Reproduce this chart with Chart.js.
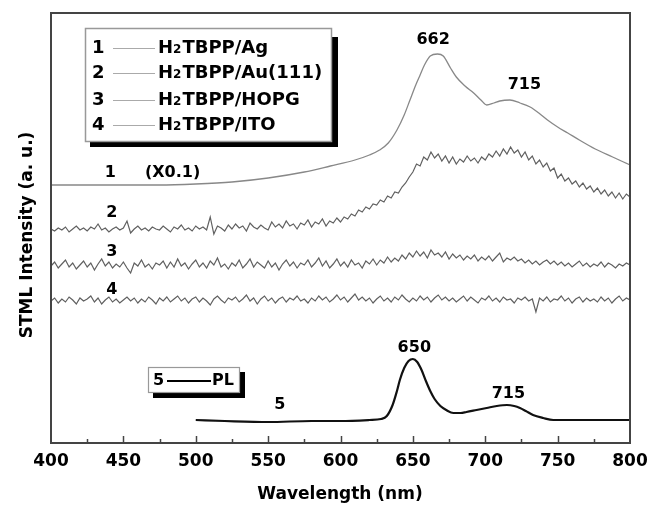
<!DOCTYPE html>
<html>
<head>
<meta charset="utf-8">
<script src="https://cdn.jsdelivr.net/npm/chart.js@4.4.1/dist/chart.umd.min.js"></script>
<style>
  html, body { margin: 0; padding: 0; background: #fff; }
  #wrap { width: 650px; height: 508px; }
</style>
</head>
<body>
<div id="wrap"><canvas id="myChart" width="650" height="508"></canvas></div>
<script>
// wavelength grid (nm) for the noisy STML spectra, 2.5 nm steps
const wlNoisy = [
  400, 402.5, 405, 407.5, 410, 412.5, 415, 417.5, 420, 422.5,
  425, 427.5, 430, 432.5, 435, 437.5, 440, 442.5, 445, 447.5,
  450, 452.5, 455, 457.5, 460, 462.5, 465, 467.5, 470, 472.5,
  475, 477.5, 480, 482.5, 485, 487.5, 490, 492.5, 495, 497.5,
  500, 502.5, 505, 507.5, 510, 512.5, 515, 517.5, 520, 522.5,
  525, 527.5, 530, 532.5, 535, 537.5, 540, 542.5, 545, 547.5,
  550, 552.5, 555, 557.5, 560, 562.5, 565, 567.5, 570, 572.5,
  575, 577.5, 580, 582.5, 585, 587.5, 590, 592.5, 595, 597.5,
  600, 602.5, 605, 607.5, 610, 612.5, 615, 617.5, 620, 622.5,
  625, 627.5, 630, 632.5, 635, 637.5, 640, 642.5, 645, 647.5,
  650, 652.5, 655, 657.5, 660, 662.5, 665, 667.5, 670, 672.5,
  675, 677.5, 680, 682.5, 685, 687.5, 690, 692.5, 695, 697.5,
  700, 702.5, 705, 707.5, 710, 712.5, 715, 717.5, 720, 722.5,
  725, 727.5, 730, 732.5, 735, 737.5, 740, 742.5, 745, 747.5,
  750, 752.5, 755, 757.5, 760, 762.5, 765, 767.5, 770, 772.5,
  775, 777.5, 780, 782.5, 785, 787.5, 790, 792.5, 795, 797.5,
  800
];

// 1: H2TBPP/Ag (x0.1), smooth
const wlAg  = [400, 425, 450, 475, 500, 525, 550, 575, 593, 610, 620, 627, 633, 639, 644, 648, 652, 655, 658, 662, 667, 671, 676, 680, 686, 692, 697, 701, 706, 710, 717, 724, 731, 737, 743, 750, 757, 765, 776, 788, 800];
const valAg = [258, 258, 258, 258, 259, 261, 265, 271, 277, 283, 288, 293, 300, 313, 328, 343, 358, 368, 378, 387, 389, 387, 375, 366, 357, 350, 343, 338, 340, 342, 343, 340, 336, 330, 323, 316, 310, 303, 294, 286, 278];

// 2: H2TBPP/Au(111)
const valAu = [
  214, 212, 215, 213, 216, 211, 214, 217, 213, 215,
  212, 216, 214, 219, 213, 215, 211, 214, 216, 213,
  215, 222, 210, 214, 217, 213, 215, 212, 216, 214,
  213, 217, 214, 211, 216, 214, 218, 213, 215, 212,
  217, 214, 216, 213, 226, 209, 217, 215, 212, 218,
  214, 219, 215, 217, 212, 220, 216, 214, 218, 215,
  213, 221, 216, 219, 215, 222, 217, 219, 214, 220,
  218, 223, 216, 221, 219, 224, 217, 222, 220, 225,
  221, 226, 224, 229, 227, 233, 231, 236, 234, 239,
  238, 243, 241, 247, 245, 251, 250, 256, 260, 266,
  271, 279, 277, 286, 283, 291, 285, 289, 282, 287,
  280, 286, 279, 284, 281, 287, 282, 285, 280, 286,
  283, 289, 286, 292, 287, 294, 289, 296, 290, 293,
  286, 291, 283, 287, 279, 283, 276, 280, 272, 275,
  265, 269, 262, 265, 259, 262, 256, 260, 254, 257,
  251, 255, 249, 253, 247, 251, 245, 250, 244, 249,
  246
];

// 3: H2TBPP/HOPG
const valHopg = [
  177, 181, 175, 179, 183, 176, 180, 174, 178, 182,
  176, 180, 173, 179, 184, 177, 181, 175, 179, 176,
  181, 175, 170, 180, 177, 183, 176, 179, 174, 180,
  178, 182, 175, 181, 176, 184, 177, 180, 174, 179,
  183, 176, 180, 175, 182, 178, 185, 176, 179, 174,
  180, 177, 183, 175, 179, 184, 176, 181, 178, 175,
  182, 176, 180, 173, 179, 183, 177, 181, 175, 180,
  178, 183, 176, 180, 185, 177, 182, 175, 179, 184,
  177, 181, 176, 183, 178, 180, 175, 182, 179, 184,
  178, 183, 180, 186, 181, 185, 182, 188, 184, 190,
  186, 192, 187, 191, 185, 193, 188, 190, 186, 191,
  184, 189, 185, 188, 183, 187, 184, 188, 182, 186,
  183, 187, 182, 186, 190, 181, 185, 183, 186, 182,
  184, 180, 183, 179, 182, 178, 181, 183, 179, 182,
  178, 181, 177, 180, 176, 179, 182, 177, 180, 176,
  179, 177, 181, 176, 180, 178, 175, 179, 177, 180,
  178
];

// 4: H2TBPP/ITO
const valIto = [
  142, 145, 140, 144, 141, 146, 143, 139, 145, 142,
  144, 147, 141, 145, 139, 143, 146, 141, 144, 140,
  143, 146, 142, 145, 140, 144, 141, 146, 143, 139,
  145, 142, 146, 141, 144, 147, 142, 145, 140, 144,
  146, 141, 145, 142, 138, 144, 147, 143, 140, 145,
  143, 146, 141, 144, 148, 142, 145, 139, 144, 147,
  142, 145, 140, 144, 146, 141, 145, 143, 147, 142,
  144, 140, 145, 142, 147, 143, 146, 141, 144, 148,
  143, 146, 141, 145, 149, 143, 146, 142, 145, 140,
  144, 147, 142, 145, 141, 146, 143, 148, 144, 141,
  145, 142, 147, 143, 146, 141, 145, 148, 143, 146,
  142, 145, 141, 144, 147, 142, 146, 143, 140, 145,
  143, 147, 142, 145, 141, 146, 143, 144, 140, 145,
  143, 146, 142, 144, 131, 145, 142, 146, 141, 144,
  143, 147, 142, 145, 140, 144, 146, 141, 145, 142,
  144, 141, 146, 142, 145, 140, 144, 147, 142, 145,
  143
];

// 5: PL
const wlPl  = [500, 520, 550, 580, 600, 620, 628, 632, 636, 639, 641, 644, 647, 650, 653, 656, 659, 662, 665, 669, 673, 678, 683, 687, 694, 701, 708, 715, 720, 724, 728, 733, 740, 747, 770, 800];
const valPl = [23, 22, 21, 22, 22, 23, 24, 27, 38, 52, 63, 75, 82, 84, 81, 73, 62, 52, 44, 37, 33, 30, 30, 31, 33, 35, 37, 38, 37, 35, 32, 28, 25, 23, 23, 23];

const xTicks = [400, 450, 500, 550, 600, 650, 700, 750, 800];
const legendNames = ['H2TBPP/Ag', 'H2TBPP/Au(111)', 'H2TBPP/HOPG', 'H2TBPP/ITO'];

// text written inside the plot, placed in data units
const notes = [
  { t: '662', x: 664, y: 403 },
  { t: '715', x: 727, y: 358 },
  { t: '1', x: 441, y: 270 },
  { t: '(X0.1)', x: 484, y: 270 },
  { t: '2', x: 442, y: 230 },
  { t: '3', x: 442, y: 191 },
  { t: '4', x: 442, y: 153 },
  { t: '650', x: 651, y: 95 },
  { t: '715', x: 716, y: 49 },
  { t: '5', x: 558, y: 38 }
];

const pts = (xs, ys) => xs.map((x, i) => ({ x: x, y: ys[i] }));
const FONT = '"DejaVu Sans", Verdana, sans-serif';

const drawSub = (ctx, s, x, y, size) => {
  // draw "H2..." with the 2 as a subscript
  ctx.font = 'bold ' + size + 'px ' + FONT;
  ctx.fillText('H', x, y);
  let w = ctx.measureText('H').width;
  ctx.font = 'bold ' + Math.round(size * 0.68) + 'px ' + FONT;
  ctx.fillText('2', x + w, y + 2);
  w += ctx.measureText('2').width + 1;
  ctx.font = 'bold ' + size + 'px ' + FONT;
  ctx.fillText(s.slice(2), x + w, y);
};

const decor = {
  id: 'decor',
  afterDraw(chart) {
    const ctx = chart.ctx;
    const a = chart.chartArea;
    const xs = chart.scales.x;
    const ys = chart.scales.y;
    ctx.save();

    // frame
    ctx.strokeStyle = '#444';
    ctx.lineWidth = 2;
    ctx.strokeRect(a.left, a.top, a.right - a.left, a.bottom - a.top);

    // inward ticks
    ctx.lineWidth = 1.5;
    for (let v = 425; v < 800; v += 25) {
      const px = Math.round(xs.getPixelForValue(v)) + 0.5;
      const len = v % 50 === 0 ? 7 : 4;
      ctx.beginPath();
      ctx.moveTo(px, a.bottom);
      ctx.lineTo(px, a.bottom - len);
      ctx.stroke();
    }

    // notes
    ctx.fillStyle = '#000';
    ctx.textAlign = 'center';
    ctx.textBaseline = 'middle';
    ctx.font = 'bold 16px ' + FONT;
    notes.forEach(n => {
      ctx.fillText(n.t, xs.getPixelForValue(n.x), ys.getPixelForValue(n.y));
    });

    // legend box 1-4
    ctx.fillStyle = '#000';
    ctx.fillRect(90, 37, 248, 110);
    ctx.fillStyle = '#fff';
    ctx.fillRect(85, 28, 247, 114);
    ctx.strokeStyle = '#999';
    ctx.lineWidth = 1.5;
    ctx.strokeRect(85.5, 28.5, 246, 113);
    const rows = [48, 73, 100, 125];
    ctx.textAlign = 'left';
    rows.forEach((ry, i) => {
      ctx.fillStyle = '#000';
      ctx.font = 'bold 18px ' + FONT;
      ctx.fillText(String(i + 1), 92, ry);
      ctx.strokeStyle = '#aaa';
      ctx.lineWidth = 1.2;
      ctx.beginPath();
      ctx.moveTo(113, ry + 0.5);
      ctx.lineTo(155, ry + 0.5);
      ctx.stroke();
      drawSub(ctx, legendNames[i], 158, ry, 18);
    });

    // PL legend box
    ctx.fillStyle = '#000';
    ctx.fillRect(153, 372, 92, 26);
    ctx.fillStyle = '#fff';
    ctx.fillRect(148, 367, 92, 26);
    ctx.strokeStyle = '#999';
    ctx.lineWidth = 1.2;
    ctx.strokeRect(148.5, 367.5, 91, 25);
    ctx.fillStyle = '#000';
    ctx.font = 'bold 16px ' + FONT;
    ctx.fillText('5', 153, 381);
    ctx.strokeStyle = '#000';
    ctx.lineWidth = 2;
    ctx.beginPath();
    ctx.moveTo(167, 381);
    ctx.lineTo(211, 381);
    ctx.stroke();
    ctx.fillText('PL', 212, 381);

    // axis titles
    ctx.textAlign = 'center';
    ctx.font = 'bold 17px ' + FONT;
    ctx.fillText('Wavelength (nm)', 340, 495);
    ctx.translate(28, 235);
    ctx.rotate(-Math.PI / 2);
    ctx.font = 'bold 17px ' + FONT;
    ctx.fillText('STML Intensity (a. u.)', 0, 0);
    ctx.restore();
  }
};

const line = (data, color, width) => ({
  data: data,
  borderColor: color,
  borderWidth: width,
  pointRadius: 0,
  fill: false
});

const ctx = document.getElementById('myChart');
const myChart = new Chart(ctx, {
  type: 'line',
  data: {
    datasets: [
      Object.assign(line(pts(wlAg, valAg), '#888', 1.3), { tension: 0.4, cubicInterpolationMode: 'monotone' }),
      line(pts(wlNoisy, valAu), '#606060', 1.2),
      line(pts(wlNoisy, valHopg), '#606060', 1.2),
      line(pts(wlNoisy, valIto), '#606060', 1.2),
      Object.assign(line(pts(wlPl, valPl), '#111', 2.2), { tension: 0.4, cubicInterpolationMode: 'monotone' })
    ]
  },
  options: {
    responsive: false,
    animation: false,
    layout: { padding: { left: 51, right: 20, top: 13, bottom: 0 } },
    plugins: { legend: { display: false }, tooltip: { enabled: false } },
    scales: {
      x: {
        type: 'linear',
        min: 400,
        max: 800,
        afterFit: s => { s.height = 65; s.paddingLeft = 0; s.paddingRight = 0; },
        afterBuildTicks: s => { s.ticks = xTicks.map(v => ({ value: v })); },
        grid: { display: false, drawTicks: false },
        border: { display: false },
        ticks: { color: '#000', padding: 8, maxRotation: 0, font: { family: FONT, size: 17, weight: 'bold' } }
      },
      y: {
        display: false,
        min: 0,
        max: 430
      }
    }
  },
  plugins: [decor]
});
</script>
</body>
</html>
